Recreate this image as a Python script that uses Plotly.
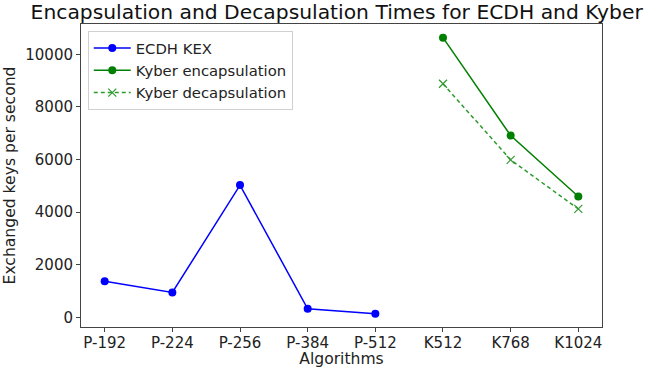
import plotly.graph_objects as go

categories = ["P-192", "P-224", "P-256", "P-384", "P-512", "K512", "K768", "K1024"]
ecdh_cats = ["P-192", "P-224", "P-256", "P-384", "P-512"]
ecdh_vals = [1380, 950, 5030, 330, 140]
kyber_cats = ["K512", "K768", "K1024"]
kyber_enc = [10630, 6910, 4595]
kyber_dec = [8880, 5990, 4125]
y_ticks = [0, 2000, 4000, 6000, 8000, 10000]

FONT = "DejaVu Sans"

fig = go.Figure()
fig.add_trace(go.Scatter(
    x=ecdh_cats, y=ecdh_vals, name="ECDH KEX", mode="lines+markers",
    line=dict(color="#0000ff", width=1.5),
    marker=dict(color="#0000ff", size=8, symbol="circle"),
))
fig.add_trace(go.Scatter(
    x=kyber_cats, y=kyber_enc, name="Kyber encapsulation", mode="lines+markers",
    line=dict(color="#008000", width=1.5),
    marker=dict(color="#008000", size=8, symbol="circle"),
))
fig.add_trace(go.Scatter(
    x=kyber_cats, y=kyber_dec, name="Kyber decapsulation", mode="lines+markers",
    line=dict(color="#2e9a2e", width=1.5, dash="4px,3px"),
    marker=dict(color="#2e9a2e", size=8, symbol="x-thin",
                line=dict(color="#2e9a2e", width=1.2)),
))

axis_common = dict(
    showline=True, linecolor="#444", linewidth=1, mirror=True,
    ticks="outside", ticklen=4, tickcolor="#444", tickwidth=1,
    showgrid=False, zeroline=False, automargin=False,
    tickfont=dict(family=FONT, size=15, color="#222"),
    title_font=dict(family=FONT, size=15.6, color="#222"),
)

fig.update_xaxes(
    type="category", categoryorder="array", categoryarray=categories,
    tickvals=categories, range=[-0.35, 7.35], ticklabelstandoff=-2,
    title_text="Algorithms", title_standoff=5, **axis_common,
)
fig.update_yaxes(
    range=[-360, 11150], tickvals=y_ticks, ticktext=[str(v) for v in y_ticks],
    title_text="Exchanged keys per second", title_standoff=5, **axis_common,
)

fig.update_layout(
    width=650, height=368,
    margin=dict(l=81, r=48, t=24, b=41),
    paper_bgcolor="white", plot_bgcolor="white",
    title=dict(text="Encapsulation and Decapsulation Times for ECDH and Kyber",
               font=dict(family=FONT, size=20.3, color="#111"),
               x=336.7 / 650, xanchor="center", xref="container",
               yref="container", y=1 - 12 / 368, yanchor="middle", automargin=False),
    legend=dict(x=0.013, y=0.977, xanchor="left", yanchor="top",
                bgcolor="rgba(255,255,255,0.8)", bordercolor="#d0d0d0", borderwidth=1,
                font=dict(family=FONT, size=14.8, color="#222"),
                tracegroupgap=0, itemwidth=37),
    showlegend=True,
)

fig.write_html("out.html", config={"displayModeBar": False},
               post_script="document.body.style.margin='0';document.body.style.padding='0';")
